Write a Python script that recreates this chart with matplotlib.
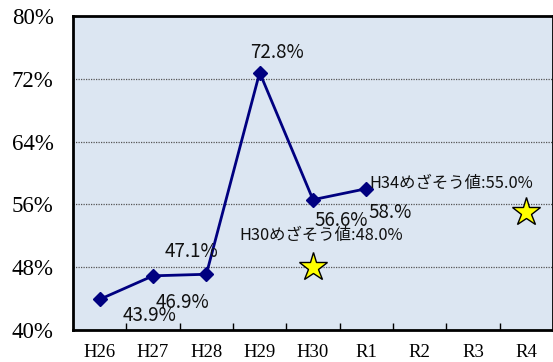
import matplotlib
matplotlib.use("Agg")
import matplotlib.pyplot as plt

plt.rcParams['font.family'] = ['Noto Sans CJK JP', 'DejaVu Sans']

years = ['H26', 'H27', 'H28', 'H29', 'H30', 'R1', 'R2', 'R3', 'R4']
rates = [43.9, 46.9, 47.1, 72.8, 56.6, 58.0]
rate_labels = ['43.9%', '46.9%', '47.1%', '72.8%', '56.6%', '58.%']
label_offsets = [(50, -16), (29, -27), (-15, 23), (17, 20), (28, -21), (24, -24)]

target_idx = [4, 8]
target_vals = [48.0, 55.0]
target_labels = ['H30めざそう値:48.0%', 'H34めざそう値:55.0%']
target_offsets = [(8, 32), (-75, 29)]

yticks = [40, 48, 56, 64, 72, 80]

fig = plt.figure(figsize=(5.53, 3.62), dpi=100)
ax = fig.add_axes([73 / 553, 32 / 362, 1 - 73 / 553, (330 - 16) / 362])
ax.set_facecolor('#dce6f2')

# dotted grid lines
for y in yticks[1:-1]:
    ax.axhline(y, color='#555555', linewidth=0.9, linestyle=(0, (1, 1)), zorder=1)

x = list(range(len(rates)))
ax.plot(x, rates, color='#000080', linewidth=2, marker='D', markersize=7, zorder=3)

for xi, v, lab, (dx, dy) in zip(x, rates, rate_labels, label_offsets):
    ax.annotate(lab, (xi, v), xytext=(dx, dy), textcoords='offset pixels',
                ha='center', va='center', fontsize=13.5, color='#111111', zorder=4)

# target stars
ax.plot(target_idx, target_vals, linestyle='none', marker='*', markersize=21,
        markerfacecolor='#ffff00', markeredgecolor='black', markeredgewidth=1, zorder=3)

for xi, v, lab, (dx, dy) in zip(target_idx, target_vals, target_labels, target_offsets):
    ax.annotate(lab, (xi, v), xytext=(dx, dy), textcoords='offset pixels',
                ha='center', va='center', fontsize=11.8, color='#111111', zorder=4)

ax.set_xlim(-0.5, len(years) - 0.5)
ax.set_ylim(40, 80)
ax.set_xticks(range(len(years)))
ax.set_xticklabels(years, family='Liberation Serif', fontsize=13.5)
ax.set_xticks([i + 0.5 for i in range(len(years) - 1)], minor=True)
ax.tick_params(axis='x', which='major', length=0, pad=10)
ax.tick_params(axis='x', which='minor', direction='in', length=5, width=1)
ax.set_yticks(yticks)
ax.set_yticklabels([f'{v}%' for v in yticks], family='Liberation Serif', fontsize=16.5)
ax.tick_params(axis='y', length=0, pad=14)

for side in ['left', 'bottom', 'top', 'right']:
    ax.spines[side].set_color('black')
    ax.spines[side].set_linewidth(2)

fig.savefig('out.png', dpi=100)
